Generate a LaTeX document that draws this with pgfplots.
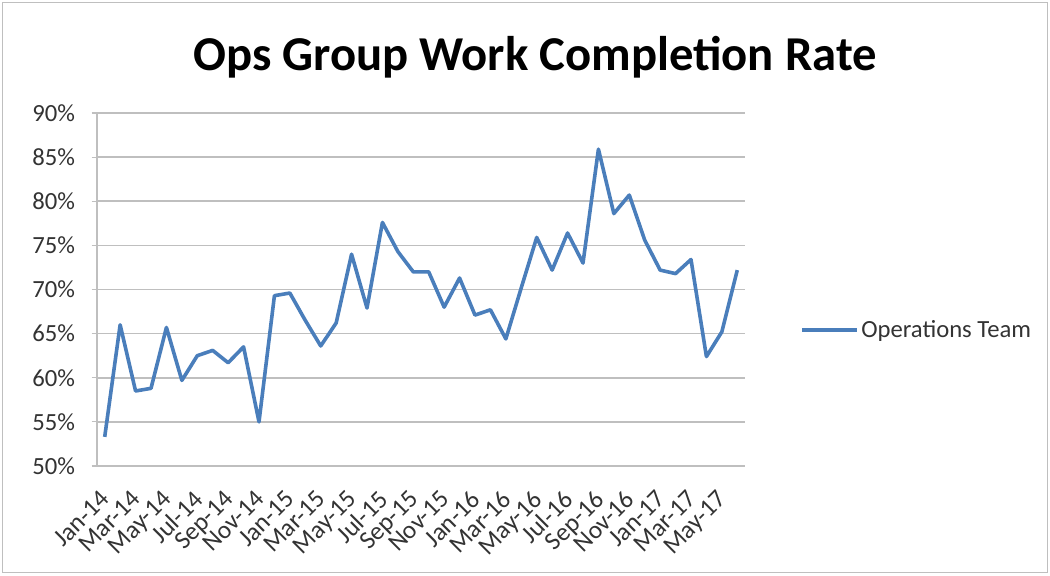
\documentclass[border=0pt]{standalone}
\usepackage{pgfplots}
\pgfplotsset{compat=1.18}
\usepackage{fontspec}
\setmainfont{Carlito}
\definecolor{exblue}{HTML}{4A7EBB}
\definecolor{gridg}{HTML}{BFBFBF}
\definecolor{txt}{HTML}{333333}
\begin{document}
\begin{tikzpicture}[x=1pt,y=1pt]
\useasboundingbox (0,0) rectangle (787.5,431.25);
\draw[gridg, line width=1pt] (2,2) rectangle (785.5,429.25);
\node[font=\fontsize{36.5}{40}\selectfont\bfseries, text=black] at (401.25,388) {Ops Group Work Completion Rate};
\begin{axis}[
  at={(72.75pt,81.75pt)}, anchor=south west,
  scale only axis, width=486pt, height=264.75pt,
  xmin=-0.5, xmax=41.5, ymin=50, ymax=90,
  ytick={50,55,...,90},
  yticklabels={50\%,55\%,60\%,65\%,70\%,75\%,80\%,85\%,90\%},
  xtick={0,2,...,40},
  xticklabels={Jan-14,Mar-14,May-14,Jul-14,Sep-14,Nov-14,Jan-15,Mar-15,May-15,Jul-15,Sep-15,Nov-15,Jan-16,Mar-16,May-16,Jul-16,Sep-16,Nov-16,Jan-17,Mar-17,May-17},
  x tick label style={xshift=-4pt, yshift=-13pt, rotate=45, anchor=north east, inner sep=0pt, font=\fontsize{19}{21}\selectfont, text=txt},
  y tick label style={font=\fontsize{18.5}{20}\selectfont, text=txt, xshift=-9pt},
  major x tick style={draw=none},
  extra x ticks={-0.5,1.5,...,41.5},
  extra x tick labels={},
  extra x tick style={grid=none, major tick length=4pt, tick style={draw=gridg, line width=0.8pt}, tick align=outside},
  ymajorgrids, grid style={gridg, line width=1.3pt},
  major y tick style={draw=gridg, line width=0.8pt},
  tick align=outside, major tick length=4pt,
  axis x line*=bottom, axis y line*=left,
  axis line style={gridg, line width=1pt, -},
  legend style={at={(1.085,0.385)}, anchor=west, draw=none, fill=none, inner sep=0pt, font=\fontsize{18.5}{20}\selectfont, text=txt},
  legend image code/.code={\draw[#1] (0pt,0pt) -- (41pt,0pt);},
]
\addplot[exblue, line width=2.7pt, line join=round] coordinates {
(0,53.3) (1,66.0) (2,58.5) (3,58.8) (4,65.7) (5,59.7) (6,62.5) (7,63.1) (8,61.7) (9,63.5)
(10,55.0) (11,69.3) (12,69.6) (13,66.5) (14,63.6) (15,66.2) (16,74.0) (17,67.9) (18,77.6) (19,74.3)
(20,72.0) (21,72.0) (22,68.0) (23,71.3) (24,67.1) (25,67.7) (26,64.4) (27,70.2) (28,75.9) (29,72.2)
(30,76.4) (31,73.0) (32,85.9) (33,78.6) (34,80.7) (35,75.6) (36,72.2) (37,71.8) (38,73.4) (39,62.4)
(40,65.2) (41,72.2)
};
\addlegendentry{Operations Team}
\end{axis}
\end{tikzpicture}
\end{document}
